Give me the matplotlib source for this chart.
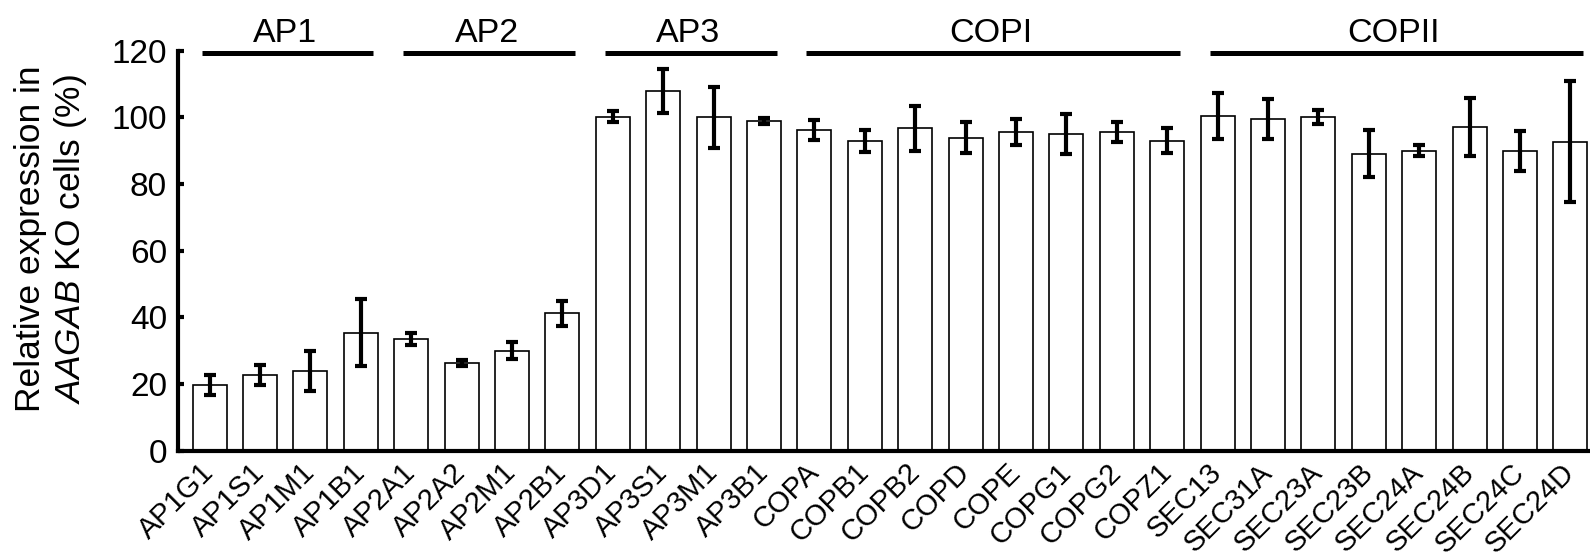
import numpy as np
import matplotlib
matplotlib.use("Agg")
import matplotlib.pyplot as plt
import matplotlib.transforms as mtransforms

plt.rcParams['font.family'] = ['Liberation Sans', 'DejaVu Sans']
plt.rcParams['mathtext.fontset'] = 'custom'
plt.rcParams['mathtext.rm'] = 'Liberation Sans'
plt.rcParams['mathtext.it'] = 'Liberation Sans:italic'

genes = ["AP1G1", "AP1S1", "AP1M1", "AP1B1",
         "AP2A1", "AP2A2", "AP2M1", "AP2B1",
         "AP3D1", "AP3S1", "AP3M1", "AP3B1",
         "COPA", "COPB1", "COPB2", "COPD", "COPE", "COPG1", "COPG2", "COPZ1",
         "SEC13", "SEC31A", "SEC23A", "SEC23B", "SEC24A", "SEC24B", "SEC24C", "SEC24D"]
expr = [19.7, 22.7, 23.8, 35.4,
        33.4, 26.2, 30.0, 41.2,
        100.2, 107.9, 100.0, 98.9,
        96.2, 92.9, 96.7, 93.9, 95.7, 95.1, 95.6, 93.0,
        100.4, 99.4, 100.1, 89.1, 90.0, 97.1, 89.9, 92.7]
err = [2.9, 3.0, 6.0, 10.0,
       1.8, 0.9, 2.5, 3.8,
       1.6, 6.5, 9.2, 0.9,
       3.1, 3.2, 6.7, 4.7, 3.9, 6.0, 3.0, 3.8,
       6.9, 6.0, 2.0, 7.0, 1.7, 8.6, 6.0, 18.1]
groups = ["AP1", "AP2", "AP3", "COPI", "COPII"]
group_sizes = [4, 4, 4, 8, 8]

fig = plt.figure(figsize=(15.9, 5.56), dpi=100)
ax = fig.add_axes([0.11195, 0.18939, 0.88805, 0.71942])

x = np.arange(len(genes))
ax.bar(x, expr, width=0.675, color="white", edgecolor="black", linewidth=1.2, zorder=2)
ax.errorbar(x, expr, yerr=err, fmt="none", ecolor="black", elinewidth=3,
            capsize=4.5, capthick=3, zorder=3)

ax.set_xlim(-0.629, 27.39)
ax.set_ylim(0, 120)
ax.set_yticks([0, 20, 40, 60, 80, 100, 120])
ax.set_xticks(x)
ax.set_xticklabels(genes, rotation=45, ha="right", va="center",
                   rotation_mode="anchor", fontsize=21)
# nudge the rotated labels a bit to the right, like the original
shift = mtransforms.ScaledTranslation(12 / 100, 0, fig.dpi_scale_trans)
for lab in ax.get_xticklabels():
    lab.set_transform(lab.get_transform() + shift)
ax.tick_params(axis="x", length=0, pad=12.5)
ax.tick_params(axis="y", direction="in", length=4, width=3, labelsize=24, pad=8)
for s in ["top", "right"]:
    ax.spines[s].set_visible(False)
for s in ["left", "bottom"]:
    ax.spines[s].set_linewidth(3)

fig.text(51.5 / 1590, 1 - 239 / 556,
         "Relative expression in\n$\\it{AAGAB}$ KO cells (%)",
         rotation=90, ha="center", va="center", multialignment="center",
         fontsize=25.5, linespacing=1.2)

start = 0
for name, n in zip(groups, group_sizes):
    end = start + n - 1
    ax.plot([start - 0.16, end + 0.25], [119.2, 119.2], color="black", lw=3.6,
            clip_on=False, solid_capstyle="butt")
    ax.text((start + end) / 2, 122.5, name, ha="center", va="baseline",
            fontsize=24.5, clip_on=False)
    start += n

fig.savefig("out.png", dpi=100)
